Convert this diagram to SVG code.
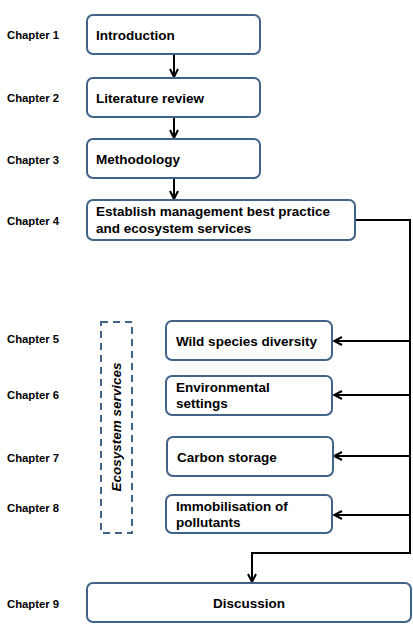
<svg xmlns="http://www.w3.org/2000/svg" width="413" height="624" viewBox="0 0 413 624">
<style>
.box{fill:#fff;stroke:#41638a;stroke-width:2}
.t{font-family:"Liberation Sans",Arial,sans-serif;font-weight:bold;font-size:13.5px;fill:#000}
.ch{font-family:"Liberation Sans",Arial,sans-serif;font-weight:bold;font-size:11.3px;fill:#000}
.c{fill:none;stroke:#000;stroke-width:2}
</style>
<defs>
<marker id="ah" viewBox="0 0 10 10" refX="9" refY="5" markerWidth="5" markerHeight="5" orient="auto" markerUnits="strokeWidth">
<path d="M1,1 L9,5 L1,9" fill="none" stroke="#000" stroke-width="2"/>
</marker>
</defs>
<rect width="413" height="624" fill="#fff"/>
<g id="labels">
<text class="ch" x="7" y="39">Chapter 1</text>
<text class="ch" x="7" y="102">Chapter 2</text>
<text class="ch" x="7" y="164">Chapter 3</text>
<text class="ch" x="7" y="225">Chapter 4</text>
<text class="ch" x="7" y="343">Chapter 5</text>
<text class="ch" x="7" y="399">Chapter 6</text>
<text class="ch" x="7" y="462">Chapter 7</text>
<text class="ch" x="7" y="512">Chapter 8</text>
<text class="ch" x="7" y="608">Chapter 9</text>
</g>
<g id="connectors">
<line class="c" x1="174" y1="54" x2="174" y2="77" marker-end="url(#ah)"/>
<line class="c" x1="174" y1="117" x2="174" y2="138" marker-end="url(#ah)"/>
<line class="c" x1="174" y1="178" x2="174" y2="199" marker-end="url(#ah)"/>
<polyline class="c" points="355,220 410,220 410,553 252,553 252,582" marker-end="url(#ah)"/>
<line class="c" x1="410" y1="341" x2="334" y2="341" marker-end="url(#ah)"/>
<line class="c" x1="410" y1="395" x2="334" y2="395" marker-end="url(#ah)"/>
<line class="c" x1="410" y1="456" x2="334" y2="456" marker-end="url(#ah)"/>
<line class="c" x1="410" y1="515" x2="334" y2="515" marker-end="url(#ah)"/>
</g>
<g id="n1"><rect class="box" x="87" y="15" width="173" height="39" rx="6"/><text class="t" x="96" y="40">Introduction</text></g>
<g id="n2"><rect class="box" x="87" y="78" width="173" height="39" rx="6"/><text class="t" x="96" y="103">Literature review</text></g>
<g id="n3"><rect class="box" x="87" y="139" width="173" height="39" rx="6"/><text class="t" x="96" y="164">Methodology</text></g>
<g id="n4"><rect class="box" x="87" y="200" width="268" height="40" rx="6"/><text class="t" x="96" y="216">Establish management best practice</text><text class="t" x="96" y="233">and ecosystem services</text></g>
<g id="eco"><rect x="101" y="322" width="31" height="211" fill="none" stroke="#41638a" stroke-width="2" stroke-dasharray="7,5"/><text class="t" font-style="italic" text-anchor="middle" transform="translate(121,427) rotate(-90)">Ecosystem services</text></g>
<g id="n5"><rect class="box" x="166" y="321" width="166" height="39" rx="6"/><text class="t" x="176" y="346">Wild species diversity</text></g>
<g id="n6"><rect class="box" x="166" y="376" width="166" height="39" rx="6"/><text class="t" x="176" y="392">Environmental</text><text class="t" x="176" y="408">settings</text></g>
<g id="n7"><rect class="box" x="167" y="437" width="166" height="39" rx="6"/><text class="t" x="177" y="462">Carbon storage</text></g>
<g id="n8"><rect class="box" x="166" y="495" width="166" height="38" rx="6"/><text class="t" x="176" y="511">Immobilisation of</text><text class="t" x="176" y="527">pollutants</text></g>
<g id="n9"><rect class="box" x="87" y="583" width="324" height="39" rx="6"/><text class="t" x="249" y="608" text-anchor="middle">Discussion</text></g>
</svg>
